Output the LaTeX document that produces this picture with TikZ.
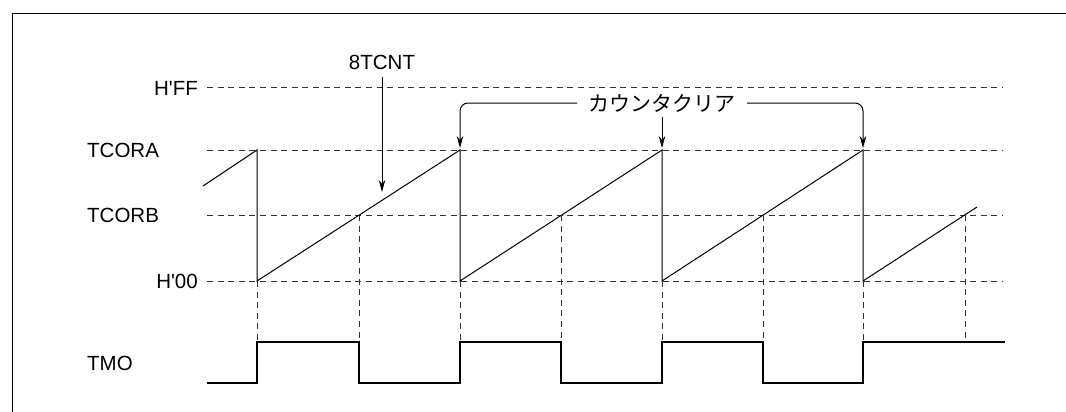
\documentclass[tikz,border=0pt]{standalone}
\usepackage{fontspec}
\setmainfont{Liberation Sans}
\newfontfamily\lfont{Liberation Sans}
\newfontfamily\jpfont{Noto Sans CJK JP}
\usetikzlibrary{arrows.meta}
\begin{document}
\begin{tikzpicture}[x=1pt,y=-1pt,
  frameline/.style={line width=1pt,draw=black},
  gridline/.style={draw=black!80,line width=1pt,dash pattern=on 6pt off 4.6pt},
  wave/.style={line width=1pt,line join=miter},
  tmo/.style={line width=2.6pt,line join=miter},
  lbl/.style={font=\lfont\fontsize{20.5}{24}\selectfont,inner sep=0pt},
  jplbl/.style={font=\jpfont\fontsize{21}{24}\selectfont,inner sep=0pt},
  arr/.style={-{Stealth[length=12pt,width=6.5pt]},line width=1pt}]
\useasboundingbox (0,0) rectangle (1066,412);
% frame
\draw[frameline] (12,412) -- (12,14) -- (1066,14);
% level coordinates
\coordinate (ffL) at (207,88);  \coordinate (ffR) at (1003,88);
\coordinate (aL) at (207,150);  \coordinate (aR) at (1003,150);
\coordinate (bL) at (207,215);  \coordinate (bR) at (1003,215);
\coordinate (zL) at (207,281);  \coordinate (zR) at (1003,281);
% labels
\node[lbl,anchor=east] (lff) at (198,88) {H'FF};
\node[lbl,anchor=west] (la) at (87,150) {TCORA};
\node[lbl,anchor=west] (lb) at (87,215) {TCORB};
\node[lbl,anchor=east] (lz) at (198,281) {H'00};
\node[lbl,anchor=west] (lt) at (87,363) {TMO};
% horizontal dashed levels
\draw[gridline] (ffL) -- (ffR);
\draw[gridline] (aL) -- (aR);
\draw[gridline] (bL) -- (bR);
\draw[gridline] (zL) -- (zR);
% sawtooth points
\coordinate (s0) at (203,186);
\foreach \i/\x in {1/257,2/460,3/662,4/863}{
  \coordinate (p\i) at (\x,150);
  \coordinate (q\i) at (\x,281);
  \coordinate (h\i) at (\x,342);
  \coordinate (l\i) at (\x,383);
}
\foreach \i/\x in {1/359,2/561,3/763,4/965}{
  \coordinate (c\i) at (\x,215);
  \coordinate (k\i) at (\x,342);
  \coordinate (m\i) at (\x,383);
}
\coordinate (s9) at (977,207);
\draw[wave] (s0) -- (p1) -- (q1) -- (p2) -- (q2) -- (p3) -- (q3) -- (p4) -- (q4) -- (s9);
% vertical dashed projections
\foreach \i in {1,2,3,4}{
  \draw[gridline] (q\i) -- (h\i);
  \draw[gridline] (c\i) -- (k\i);
}
% TMO waveform
\coordinate (t0) at (207,383);
\coordinate (t9) at (1005,342);
\draw[tmo] (t0) -- (l1) -- (h1) -- (k1) -- (m1) -- (l2) -- (h2) -- (k2) -- (m2) -- (l3) -- (h3) -- (k3) -- (m3) -- (l4) -- (h4) -- (t9);
% 8TCNT
\node[lbl] (tc) at (382,62.5) {8TCNT};
\coordinate (tcS) at (382,77);
\coordinate (tcE) at (382,192);
\draw[arr] (tcS) -- (tcE);
% counter clear
\node[jplbl] (clr) at (662,103) {カウンタクリア};
\coordinate (clrL) at (577,103);
\coordinate (clrR) at (747,103);
\coordinate (clrM) at (662,117);
\coordinate (e1) at (460,148);
\coordinate (e2) at (662,148);
\coordinate (e3) at (863,148);
\draw[arr,rounded corners=8pt] (clrL) -| (e1);
\draw[arr,rounded corners=8pt] (clrR) -| (e3);
\draw[arr] (clrM) -- (e2);
\end{tikzpicture}
\end{document}
